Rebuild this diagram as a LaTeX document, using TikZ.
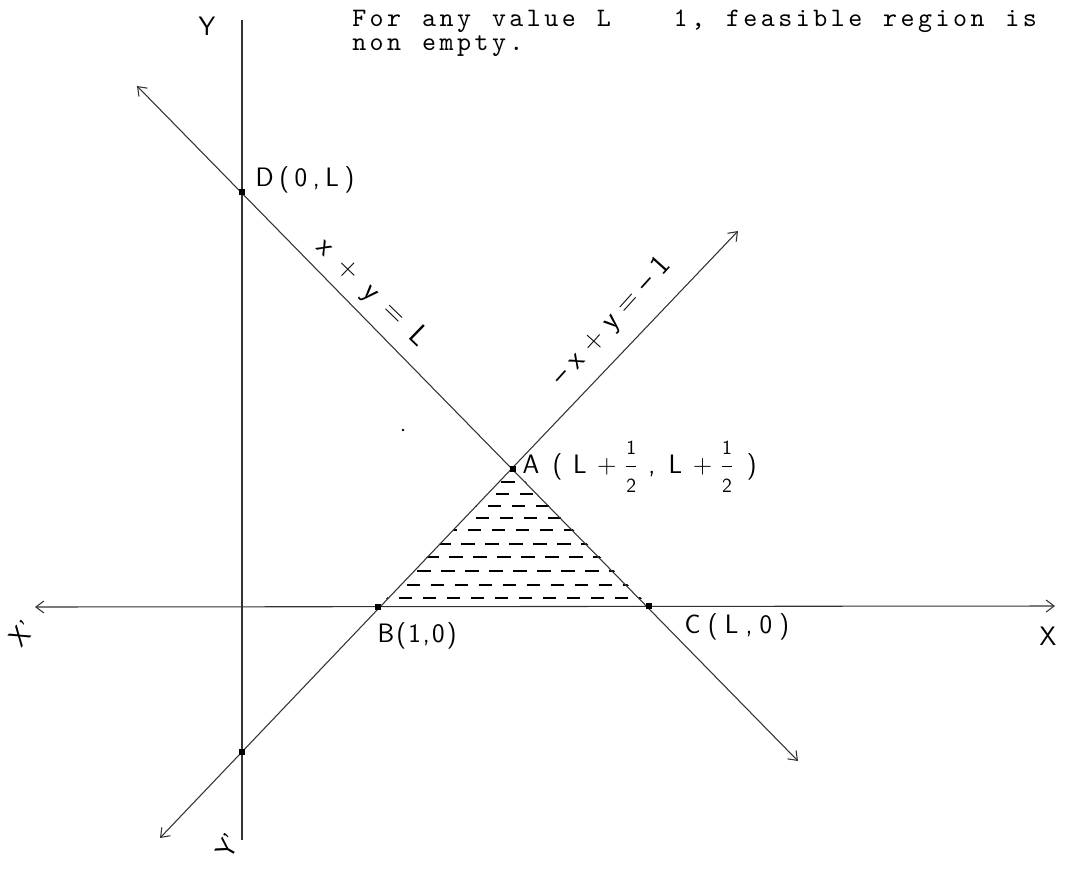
\documentclass[tikz,border=0pt]{standalone}
\usepackage{fontspec}
\usetikzlibrary{arrows.meta}
\newfontfamily\tw{lmmono10-regular.otf}[LetterSpace=13]
\newcommand{\tsp}{\ \hspace{2.6pt}}
\newcommand{\hg}[1]{\hspace{#1em}}
\newcommand{\dg}[1]{\mbox{\fontsize{15}{15}\selectfont #1}}
\newcommand{\half}{\ensuremath{\displaystyle\frac{\dg{1}}{\dg{2}}}}
\begin{document}
\begin{tikzpicture}[x=0.75pt,y=-0.75pt,
  ln/.style={line width=0.8pt,draw=black!80},
  both/.style={{Straight Barb[length=6pt,width=9pt,line width=0.8pt]}-{Straight Barb[length=6pt,width=9pt,line width=0.8pt]}},
  pt/.style={rectangle,fill=black,inner sep=0pt,minimum size=4.5pt},
  hand/.style={font=\sffamily\fontsize{20}{22}\selectfont,inner sep=1pt},
  eqn/.style={font=\sffamily\fontsize{22}{24}\selectfont,inner sep=1pt},
  typed/.style={font=\tw\fontsize{20}{24}\selectfont,inner sep=0pt,anchor=base west},
  hatch/.style={line width=0.9pt,dash pattern=on 10pt off 8pt}]
\useasboundingbox (0,0) rectangle (1068,868);
% coordinates
\coordinate (D) at (242,192);
\coordinate (A) at (513,469);
\coordinate (B) at (378,607);
\coordinate (C) at (649,606);
\coordinate (E) at (242,752);
\coordinate (P1) at (137,86);
\coordinate (P2) at (798,761);
\coordinate (Q1) at (160,838);
\coordinate (Q2) at (738,231);
\coordinate (XL) at (35,607);
\coordinate (XR) at (1055,606);
\coordinate (YT) at (242,20);
\coordinate (YB) at (242,840);
% hatching
\begin{scope}
\clip (A) -- (B) -- (C) -- cycle;
\foreach \yy/\ph in {482/2,494/6,506/12,518/3,530/9,544/14,557/5,571/11,585/1,598/7}
  \draw[hatch,dash phase=\ph pt] (360,\yy) -- (670,\yy);
\end{scope}
% axes
\draw[ln] (YT) -- (YB);
\draw[ln,both] (XL) -- (XR);
% lines
\draw[ln,both] (P1) -- (P2);
\draw[ln,both] (Q1) -- (Q2);
% points
\foreach \p in {D,A,B,C,E} \node[pt] (d\p) at (\p) {};
\fill (403,430) circle (1pt);
% typed text
\node[typed] (t1) at (352,26) {For\tsp any\tsp value\tsp L\tsp\tsp\tsp 1,\tsp feasible\tsp region\tsp is};
\node[typed] (t2) at (352,50) {non\tsp empty.};
% hand labels
\node[hand] (lY) at (207,26) {Y};
\node[hand,anchor=west] (lD) at (254,180) {D\hg{.21}(\hg{.21}0\hg{.21},\hg{.21}L\hg{.21})};
\node[eqn,rotate=-44] (l1) at (372,293) {x\hg{.5}+\hg{.5}y\hg{.5}=\hg{.5}L};
\node[eqn,rotate=48] (l2) at (612,322) {--\hg{.3}x\hg{.3}+\hg{.3}y\hg{.3}=\hg{.3}--\hg{.3}1};
\node[hand,anchor=west] (lA) at (521,467) {A\hg{.5}(\hg{.4}L\hg{.4}+\hg{.3}\half\hg{.4},\hg{.5}L\hg{.4}+\hg{.3}\half\hg{.5})};
\node[hand,anchor=west] (lB) at (376,636) {B\hg{.08}(\hg{.08}1\hg{.08},\hg{.08}0\hg{.08})};
\node[hand,anchor=west] (lC) at (683,627) {C\hg{.27}(\hg{.27}L\hg{.27},\hg{.27}0\hg{.27})};
\node[hand] (lX) at (1048,636) {X};
\node[hand,rotate=50] (lX2) at (22,633) {X'};
\node[hand,rotate=60] (lY2) at (228,846) {Y'};
\end{tikzpicture}
\end{document}
